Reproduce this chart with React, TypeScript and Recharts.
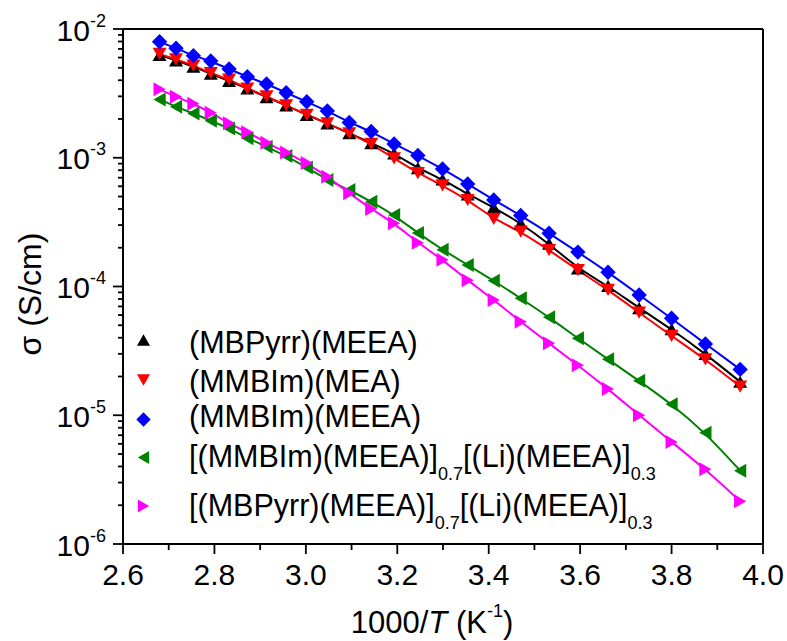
import { LineChart, Line, XAxis, YAxis, ReferenceLine } from "recharts";

const FONT = '"Liberation Sans", Arial, Helvetica, sans-serif';

// 1000/T (K^-1) for T = 100 ... -20 °C in 5 °C steps
const invTemp = [
  2.68, 2.716, 2.754, 2.792, 2.832, 2.872, 2.914, 2.957, 3.002, 3.047, 3.095, 3.143, 3.193,
  3.245, 3.299, 3.354, 3.411, 3.47, 3.532, 3.595, 3.661, 3.729, 3.8, 3.874, 3.95,
];

// conductivity, S/cm
const mbpyrrMeea = [
  6.3e-3, 5.7e-3, 5.1e-3, 4.5e-3, 3.95e-3, 3.45e-3, 2.95e-3, 2.55e-3, 2.15e-3, 1.85e-3, 1.55e-3,
  1.3e-3, 1.08e-3, 8.3e-4, 6.8e-4, 5.2e-4, 4.12e-4, 3.1e-4, 2.15e-4, 1.38e-4, 1.01e-4, 6.8e-5,
  4.66e-5, 3.0e-5, 1.82e-5,
];
const mmbimMea = [
  6.4e-3, 5.8e-3, 5.2e-3, 4.55e-3, 4.05e-3, 3.45e-3, 3.0e-3, 2.55e-3, 2.15e-3, 1.85e-3, 1.55e-3,
  1.28e-3, 9.9e-4, 7.6e-4, 6.1e-4, 4.7e-4, 3.35e-4, 2.67e-4, 1.92e-4, 1.34e-4, 9.4e-5, 6.26e-5,
  4.13e-5, 2.72e-5, 1.67e-5,
];
const mmbimMeea = [
  7.96e-3, 7.08e-3, 6.21e-3, 5.64e-3, 4.89e-3, 4.26e-3, 3.74e-3, 3.2e-3, 2.72e-3, 2.31e-3,
  1.88e-3, 1.6e-3, 1.28e-3, 1.04e-3, 8.18e-4, 6.26e-4, 4.7e-4, 3.56e-4, 2.59e-4, 1.85e-4,
  1.29e-4, 8.6e-5, 5.66e-5, 3.58e-5, 2.27e-5,
];
const mmbimLi = [
  2.84e-3, 2.49e-3, 2.21e-3, 1.94e-3, 1.69e-3, 1.42e-3, 1.22e-3, 1.03e-3, 8.4e-4, 6.71e-4,
  5.62e-4, 4.56e-4, 3.59e-4, 2.6e-4, 1.93e-4, 1.47e-4, 1.11e-4, 8.1e-5, 5.76e-5, 3.96e-5,
  2.72e-5, 1.85e-5, 1.22e-5, 7.3e-6, 3.71e-6,
];
const mbpyrrLi = [
  3.4e-3, 2.98e-3, 2.63e-3, 2.24e-3, 1.85e-3, 1.58e-3, 1.31e-3, 1.1e-3, 9.1e-4, 7.13e-4, 5.3e-4,
  4.0e-4, 3.1e-4, 2.19e-4, 1.61e-4, 1.12e-4, 7.85e-5, 5.33e-5, 3.62e-5, 2.45e-5, 1.6e-5, 1.0e-5,
  6.2e-6, 3.8e-6, 2.15e-6,
];

const xTicks = [2.6, 2.7, 2.8, 2.9, 3.0, 3.1, 3.2, 3.3, 3.4, 3.5, 3.6, 3.7, 3.8, 3.9, 4.0];
const xTickLabels = ["2.6", "", "2.8", "", "3.0", "", "3.2", "", "3.4", "", "3.6", "", "3.8", "", "4.0"];
const yDecades = [1e-6, 1e-5, 1e-4, 1e-3, 1e-2];
const yDecadeLabels = ["-6", "-5", "-4", "-3", "-2"];
const yMinorSteps = [2, 3, 4, 5, 6, 7, 8, 9];

type Shape = "up" | "down" | "diamond" | "left" | "right";

// label parts: [text, isSubscript]
const series: {
  id: string;
  values: number[];
  color: string;
  shape: Shape;
  label: [string, boolean][];
}[] = [
  { id: "mbpyrr", values: mbpyrrMeea, color: "#000000", shape: "up", label: [["(MBPyrr)(MEEA)", false]] },
  { id: "mmbimMea", values: mmbimMea, color: "#ff0000", shape: "down", label: [["(MMBIm)(MEA)", false]] },
  { id: "mmbim", values: mmbimMeea, color: "#0000ff", shape: "diamond", label: [["(MMBIm)(MEEA)", false]] },
  {
    id: "mmbimLi",
    values: mmbimLi,
    color: "#008000",
    shape: "left",
    label: [["[(MMBIm)(MEEA)]", false], ["0.7", true], ["[(Li)(MEEA)]", false], ["0.3", true]],
  },
  {
    id: "mbpyrrLi",
    values: mbpyrrLi,
    color: "#ff00ff",
    shape: "right",
    label: [["[(MBPyrr)(MEEA)]", false], ["0.7", true], ["[(Li)(MEEA)]", false], ["0.3", true]],
  },
];

const yTicks = [
  ...yDecades,
  ...yDecades.slice(0, -1).flatMap((d) => yMinorSteps.map((m) => d * m)),
];

function markerPoints(shape: Shape, cx: number, cy: number, s: number) {
  const h = s * 0.87;
  switch (shape) {
    case "up":
      return `${cx},${cy - h / 2} ${cx - s / 2},${cy + h / 2} ${cx + s / 2},${cy + h / 2}`;
    case "down":
      return `${cx},${cy + h / 2} ${cx - s / 2},${cy - h / 2} ${cx + s / 2},${cy - h / 2}`;
    case "left":
      return `${cx - h / 2},${cy} ${cx + h / 2},${cy - s / 2} ${cx + h / 2},${cy + s / 2}`;
    case "right":
      return `${cx + h / 2},${cy} ${cx - h / 2},${cy - s / 2} ${cx - h / 2},${cy + s / 2}`;
    default: {
      const r = s * 0.55;
      return `${cx},${cy - r} ${cx + r},${cy} ${cx},${cy + r} ${cx - r},${cy}`;
    }
  }
}

function YTick({ x, y, payload }: any) {
  const i = yDecades.indexOf(payload.value);
  const major = i >= 0;
  return (
    <g>
      <line x1={x - (major ? 10 : 5)} y1={y} x2={x} y2={y} stroke="#000" strokeWidth={1.8} />
      {major ? (
        <text x={x - 17} y={y + 11.5} textAnchor="end" fontSize={30} fill="#000" fontFamily={FONT}>
          10
          <tspan dy={-14} fontSize={18}>
            {yDecadeLabels[i]}
          </tspan>
        </text>
      ) : null}
    </g>
  );
}

function XTick({ x, y, payload }: any) {
  const i = xTicks.indexOf(payload.value);
  const label = i >= 0 ? xTickLabels[i] : "";
  return (
    <g>
      <line x1={x} y1={y} x2={x} y2={y + (label ? 10 : 6)} stroke="#000" strokeWidth={1.8} />
      {label ? (
        <text x={x} y={y + 41} textAnchor="middle" fontSize={30} fill="#000" fontFamily={FONT}>
          {label}
        </text>
      ) : null}
    </g>
  );
}

const legendMarkerY = [340, 380, 419.5, 457.5, 506];
const legendBaseY = [352.5, 391.5, 427, 466.5, 516];

function Legend() {
  return (
    <g fontFamily={FONT} fill="#000">
      {series.map((s, r) => (
        <g key={s.id}>
          <polygon points={markerPoints(s.shape, 143.5, legendMarkerY[r], 13)} fill={s.color} />
          <text x={189} y={legendBaseY[r]} fontSize={30.5}>
            {s.label.map(([t, sub], k) => {
              const prevSub = k > 0 && s.label[k - 1][1];
              const dy = sub ? 13 : prevSub ? -13 : 0;
              return (
                <tspan key={k} dy={dy} fontSize={sub ? 18 : 30.5}>
                  {t}
                </tspan>
              );
            })}
          </text>
        </g>
      ))}
    </g>
  );
}

export default function App() {
  const rowsFor = (values: number[]) => invTemp.map((x, i) => ({ x, y: values[i] }));

  return (
    <div style={{ position: "absolute", left: 0, top: 0, width: 787, height: 641, background: "#fff" }}>
      <LineChart width={787} height={641} margin={{ top: 29, right: 24, bottom: 0, left: 0 }}>
        <XAxis
          dataKey="x"
          type="number"
          domain={[2.6, 4.0]}
          allowDataOverflow
          ticks={xTicks}
          interval={0}
          tick={<XTick />}
          tickLine={false}
          tickSize={0}
          tickMargin={0}
          height={97}
          axisLine={{ stroke: "#000", strokeWidth: 2 }}
        />
        <YAxis
          type="number"
          scale="log"
          domain={[1e-6, 1e-2]}
          allowDataOverflow
          ticks={yTicks}
          interval={0}
          tick={<YTick />}
          tickLine={false}
          tickSize={0}
          tickMargin={0}
          width={123}
          axisLine={{ stroke: "#000", strokeWidth: 2 }}
        />
        <ReferenceLine y={1e-2} stroke="#000" strokeWidth={2} />
        <ReferenceLine x={4.0} stroke="#000" strokeWidth={2} />
        {series.map((s) => (
          <Line
            key={`m-${s.id}`}
            data={rowsFor(s.values)}
            dataKey="y"
            stroke="none"
            isAnimationActive={false}
            activeDot={false}
            legendType="none"
            dot={(p: any) => (
              <polygon
                key={`${s.id}-${p.index}`}
                points={markerPoints(s.shape, p.cx, p.cy, 14)}
                fill={s.color}
              />
            )}
          />
        ))}
        {series.map((s) => (
          <Line
            key={`f-${s.id}`}
            data={rowsFor(s.values)}
            dataKey="y"
            type="basis"
            stroke={s.color}
            strokeWidth={2}
            dot={false}
            activeDot={false}
            isAnimationActive={false}
            legendType="none"
          />
        ))}
      </LineChart>
      <svg
        width={787}
        height={641}
        style={{ position: "absolute", left: 0, top: 0, pointerEvents: "none" }}
      >
        <Legend />
        <text x={432} y={633} textAnchor="middle" fontSize={31} fontFamily={FONT} fill="#000">
          1000/<tspan fontStyle="italic">T</tspan> (K
          <tspan dy={-16} fontSize={18}>
            -1
          </tspan>
          <tspan dy={16}>)</tspan>
        </text>
        <text
          x={0}
          y={0}
          transform="translate(41 294) rotate(-90)"
          textAnchor="middle"
          fontSize={32}
          fontFamily={FONT}
          fill="#000"
        >
          σ (S/cm)
        </text>
      </svg>
    </div>
  );
}
